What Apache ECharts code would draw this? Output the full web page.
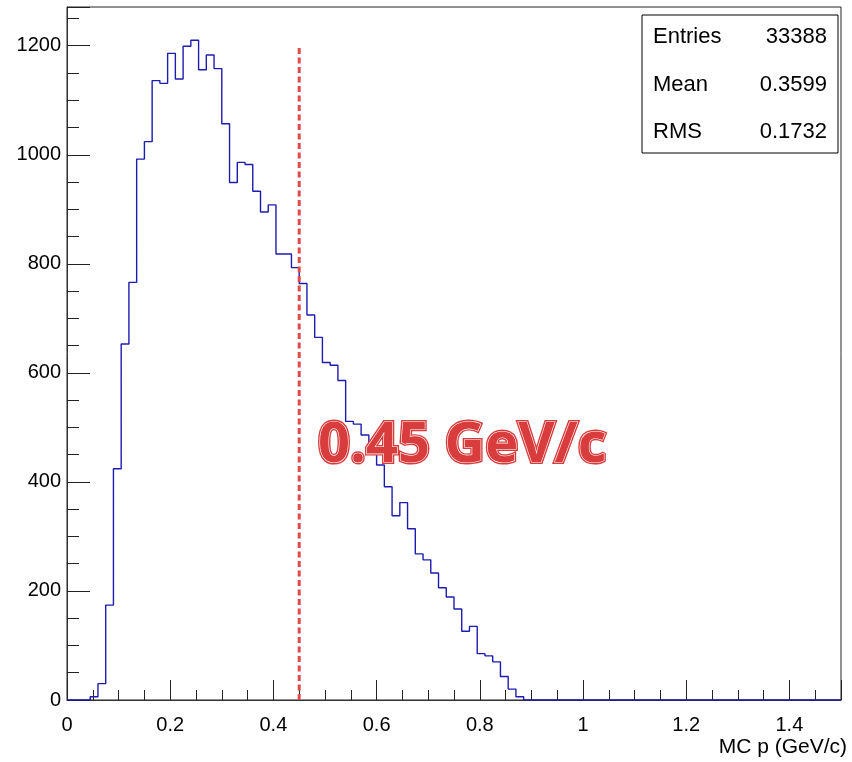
<!DOCTYPE html>
<html>
<head>
<meta charset="utf-8">
<script src="https://cdn.jsdelivr.net/npm/echarts@6/dist/echarts.min.js"></script>
<style>
  html, body { margin: 0; padding: 0; background: #fff; }
  #chart { width: 852px; height: 762px; }
</style>
</head>
<body>
<div id="chart"></div>
<script>
// histogram of MC p, 100 bins from 0 to 1.5 GeV/c
const binWidth = 0.015
const counts = [
  0, 0, 0, 6, 30, 174, 424, 653, 766, 992,
  1024, 1136, 1131, 1186, 1139, 1199, 1210, 1156, 1183, 1158,
  1057, 949, 986, 982, 933, 895, 908, 818, 818, 793,
  764, 706, 665, 619, 614, 586, 511, 506, 486, 455,
  431, 391, 338, 362, 314, 268, 257, 233, 206, 189,
  167, 126, 135, 85, 81, 70, 43, 20, 6, 0,
  0, 0, 0, 0, 0, 0, 0, 0, 0, 0,
  0, 0, 0, 0, 0, 0, 0, 0, 0, 0,
  0, 0, 0, 0, 0, 0, 0, 0, 0, 0,
  0, 0, 0, 0, 0, 0, 0, 0, 0, 0
]

const cutValue = 0.45
const cutTop = 1200
const cutLabel = '0.45 GeV/c'

const statLabels = ['Entries', 'Mean', 'RMS']
const statValues = ['33388', '0.3599', '0.1732']

const xMax = 1.5
const yMax = 1271

const FONT = 'Liberation Sans'

const histPoints = []
counts.forEach((c, i) => {
  histPoints.push([i * binWidth, c], [(i + 1) * binWidth, c])
})

const chart = echarts.init(document.getElementById('chart'))

const statsGraphic = [{
  type: 'rect',
  shape: { x: 642, y: 15, width: 196, height: 138 },
  style: { fill: '#fff', stroke: '#000', lineWidth: 1 },
  z: 10
}]
statLabels.forEach((label, i) => {
  const y = 37 + i * 47.5
  statsGraphic.push({
    type: 'text', x: 653, y, z: 11,
    style: { text: label, font: `22px "${FONT}"`, fill: '#000', verticalAlign: 'middle', align: 'left' }
  })
  statsGraphic.push({
    type: 'text', x: 827, y, z: 11,
    style: { text: statValues[i], font: `22px "${FONT}"`, fill: '#000', verticalAlign: 'middle', align: 'right' }
  })
})

chart.setOption({
  animation: false,
  grid: {
    left: 67,
    right: 11,
    top: 7,
    bottom: 62,
    show: true,
    borderColor: '#222',
    borderWidth: 1
  },
  xAxis: {
    type: 'value',
    min: 0,
    max: xMax,
    interval: 0.2,
    name: 'MC p (GeV/c)',
    nameLocation: 'end',
    nameGap: 6,
    nameTextStyle: {
      fontFamily: FONT,
      fontSize: 21,
      color: '#000',
      align: 'right',
      verticalAlign: 'top',
      padding: [37, 0, 0, 0]
    },
    axisLine: { lineStyle: { color: '#333', width: 1 } },
    axisTick: { inside: true, length: 20, lineStyle: { color: '#222' } },
    minorTick: { show: true, splitNumber: 4, length: 10, lineStyle: { color: '#222' } },
    splitLine: { show: false },
    axisLabel: {
      fontFamily: FONT,
      fontSize: 20,
      color: '#000',
      margin: 15,
      showMaxLabel: false,
      formatter: (v) => String(Math.round(v * 10) / 10)
    }
  },
  yAxis: {
    type: 'value',
    min: 0,
    max: yMax,
    interval: 200,
    axisLine: { show: true, lineStyle: { color: '#333', width: 1 } },
    axisTick: { show: true, inside: true, length: 23, lineStyle: { color: '#222' } },
    minorTick: { show: true, splitNumber: 4, length: 12, lineStyle: { color: '#222' } },
    splitLine: { show: false },
    axisLabel: {
      fontFamily: FONT,
      fontSize: 20,
      color: '#000',
      margin: 6,
      showMaxLabel: false,
      formatter: (v) => String(v)
    }
  },
  series: [
    {
      type: 'line',
      data: histPoints,
      symbol: 'none',
      clip: true,
      lineStyle: { color: '#1c1cae', width: 1.4 },
      z: 2
    },
    {
      type: 'line',
      data: [[cutValue, 0], [cutValue, cutTop]],
      symbol: 'none',
      lineStyle: { color: '#e04a4a', width: 3, type: [6, 3.5] },
      z: 3
    }
  ],
  graphic: [
    ...statsGraphic,
    {
      type: 'text', x: 318, y: 446, z: 20,
      style: {
        text: cutLabel,
        font: `bold 56px "Open Sans"`,
        fill: '#d83c3c',
        stroke: '#d83c3c',
        lineWidth: 4,
        verticalAlign: 'middle',
        align: 'left',
        shadowColor: 'rgba(0,0,0,0.45)',
        shadowBlur: 4,
        shadowOffsetX: 2,
        shadowOffsetY: 3
      }
    },
    {
      type: 'text', x: 318, y: 446, z: 21,
      style: {
        text: cutLabel,
        font: `bold 56px "Open Sans"`,
        fill: '#d83c3c',
        stroke: '#ffffff',
        lineWidth: 1.2,
        verticalAlign: 'middle',
        align: 'left'
      }
    }
  ]
})
</script>
</body>
</html>
